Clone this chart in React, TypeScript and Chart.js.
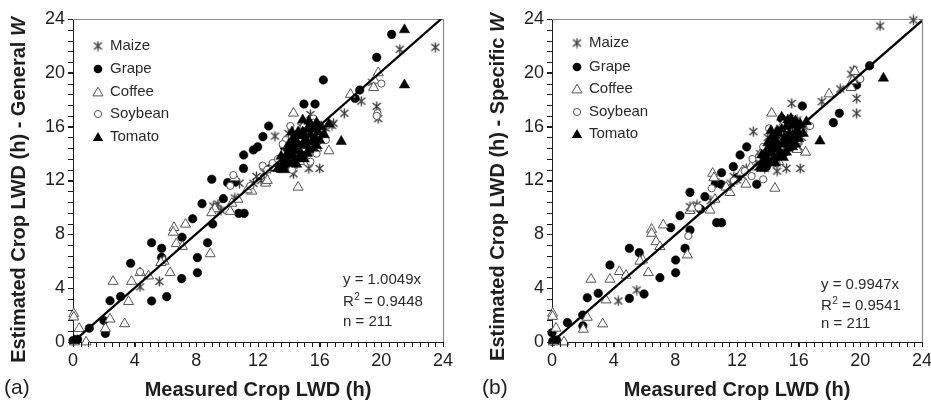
import React, { useEffect, useRef } from 'react';
import { Chart, registerables } from 'chart.js';
Chart.register(...registerables);

const FONT = '"Liberation Sans", Arial, Helvetica, sans-serif';
const INK = '#1e1e1e';
const SERIES_NAMES = ['Maize', 'Grape', 'Coffee', 'Soybean', 'Tomato'];
const AXIS_MIN = 0;
const AXIS_MAX = 24;
const MAJOR_STEP = 4;
const X_MINOR_STEP = 0.5;
const Y_MINOR_STEP = 0.8;

// ---------- Panel (a): General W ----------
const maizeA = [[23.5,21.9],[21.2,21.75],[19.4,19.3],[18.7,17.9],[17.6,17.0],[19.7,17.5],[19.8,16.6],[16.9,16.25],[16.0,12.9],[15.3,12.9],[13.1,15.3],[14.3,13.15],[11.9,12.3],[11.7,11.8],[10.8,11.8],[9.4,10.25],[9.1,10.1],[5.6,4.5],[4.35,4.1],[13.97,15.5],[14.3,12.5],[16.8,16.1],[14.6,14.3],[15.0,13.9],[15.5,14.2],[15.9,14.6],[14.0,13.6],[13.5,13.0],[12.4,12.6],[12.8,12.9],[15.7,15.8],[16.2,15.5],[14.8,16.0],[15.4,16.9],[13.8,14.1],[10.5,10.7],[12.2,12.0],[9.6,9.8],[15.2,14.8],[16.4,15.9]];
const grapeA = [[20.67,22.86],[19.7,21.15],[16.24,19.47],[18.6,18.72],[18.3,18.1],[14.98,17.68],[15.7,17.68],[12.69,16.05],[12.32,15.26],[11.98,14.5],[11.7,14.27],[11.07,13.9],[13.7,14.5],[9.0,12.09],[11.06,12.9],[10.03,11.84],[9.75,10.65],[8.37,10.28],[10.75,9.56],[11.1,9.56],[7.76,9.16],[9.06,8.77],[7.07,7.78],[5.1,7.38],[8.73,7.38],[5.75,6.96],[5.75,6.29],[8.07,6.27],[3.74,5.85],[8.07,5.15],[7.05,4.71],[2.4,3.07],[3.09,3.37],[5.1,3.05],[6.08,3.37],[1.06,1.02],[2.1,0.64],[0.3,0.2],[0.0,0.1],[13.3,12.9],[12.9,13.0],[13.9,13.9],[14.1,13.1],[15.0,15.4],[14.6,14.0],[13.6,13.4],[14.4,14.8],[10.5,11.9],[2.0,1.6],[15.5,15.0]];
const coffeeA = [[19.8,20.0],[19.55,19.45],[19.5,18.9],[18.0,18.4],[14.3,17.0],[16.6,14.2],[14.6,11.5],[12.5,11.8],[11.6,11.2],[10.7,10.6],[10.2,9.7],[9.2,9.9],[6.55,8.5],[6.5,8.15],[7.3,8.75],[6.7,7.3],[7.1,7.1],[8.9,6.55],[5.9,6.0],[6.3,5.15],[2.6,4.5],[3.8,4.5],[4.35,5.15],[4.9,4.9],[3.6,3.0],[2.4,1.7],[3.35,1.35],[2.1,1.0],[0.4,1.0],[0.05,2.1],[0.05,1.85],[0.85,0.0],[0.1,0.0],[10.3,10.3],[10.5,12.2],[12.6,12.0],[12.9,13.0],[11.3,11.3],[13.6,13.9],[15.3,15.0],[14.7,13.4],[15.8,14.4],[9.0,9.6],[5.7,5.9],[15.0,16.1]];
const soybeanA = [[20.0,19.2],[19.75,17.0],[14.1,16.05],[15.6,16.6],[13.8,15.0],[12.95,13.3],[12.3,13.1],[10.4,12.4],[4.35,5.2],[19.7,16.8],[15.6,16.3],[14.6,15.5],[15.0,14.4],[15.4,13.4],[14.3,13.9],[13.3,13.6],[16.0,15.3],[15.8,14.0],[13.6,14.7],[12.6,12.8],[11.5,11.6],[10.2,11.6],[14.2,12.8],[16.4,15.0],[15.1,15.7]];
const tomatoA = [[21.5,23.2],[21.5,19.1],[17.4,14.9],[14.9,16.5],[16.6,16.2],[0.1,0.1],[13.3,12.9],[13.6,13.2],[13.8,13.6],[13.9,14.0],[14.0,13.3],[14.2,13.8],[14.3,14.4],[14.4,15.0],[14.5,14.2],[14.6,14.7],[14.7,15.3],[14.8,14.0],[14.9,15.6],[15.0,14.6],[15.1,15.1],[15.2,15.8],[15.3,14.3],[15.4,15.4],[15.5,14.9],[15.6,15.9],[15.7,15.2],[15.8,14.6],[15.9,15.6],[16.0,15.0],[16.1,16.0],[15.0,13.6],[14.5,13.2],[13.7,12.8],[15.4,16.2],[14.2,15.6],[15.8,16.3],[13.5,13.8],[14.0,14.7],[16.3,15.4],[14.1,14.3],[14.6,15.6],[15.2,14.0],[15.6,14.4],[14.8,13.7],[15.3,16.4],[14.4,13.6],[15.9,16.1],[13.9,13.3],[15.1,14.9],[14.3,15.2]];
const slopeA = 1.0049;
const statsA = ['y = 1.0049x', '0.9448', 'n = 211'];

// ---------- Panel (b): Specific W ----------
const maizeB = [[23.44,23.93],[21.28,23.48],[19.55,20.2],[19.4,19.9],[19.76,18.1],[19.76,17.0],[18.7,18.8],[17.5,17.86],[15.55,17.73],[13.06,15.63],[15.2,12.9],[16.1,12.9],[12.0,12.04],[4.3,3.05],[5.5,3.86],[8.95,10.06],[9.4,10.2],[11.8,12.3],[11.6,11.8],[10.6,11.9],[13.5,14.0],[14.2,14.8],[14.4,13.3],[14.6,12.7],[15.0,14.1],[15.4,14.5],[15.8,14.8],[16.2,15.2],[15.9,16.5],[14.9,15.6],[13.3,13.3],[12.6,12.9],[15.6,16.0],[16.4,16.0],[14.0,15.2],[13.8,12.9],[10.3,10.5],[12.3,12.4],[15.2,15.3],[16.0,14.5]];
const grapeB = [[20.6,20.53],[19.76,19.1],[18.64,17.0],[18.25,16.3],[16.24,17.54],[14.9,16.6],[12.63,14.5],[12.2,13.9],[11.76,13.03],[11.0,12.58],[13.28,11.72],[10.96,11.72],[8.95,11.12],[9.92,10.8],[9.64,9.86],[8.3,9.39],[10.68,8.87],[11.0,8.87],[7.7,8.5],[8.95,8.32],[5.02,6.96],[5.66,6.64],[3.76,5.72],[8.63,6.96],[8.02,6.09],[8.02,5.15],[7.0,4.78],[2.29,3.29],[3.0,3.62],[5.02,3.24],[5.97,3.57],[1.99,2.0],[1.0,1.44],[0.0,0.69],[0.3,0.15],[0.05,0.05],[13.7,13.6],[13.9,13.0],[14.3,13.8],[15.0,14.0],[14.6,14.6],[15.4,15.0],[13.5,13.8],[14.1,14.3],[15.8,15.5],[10.6,11.8],[2.0,1.2],[12.0,12.2],[14.8,15.4],[16.0,16.0]];
const coffeeB = [[19.65,20.1],[19.4,18.9],[19.5,19.4],[17.97,18.43],[14.25,17.0],[16.45,14.1],[14.46,11.42],[12.58,11.72],[11.55,11.1],[10.42,12.53],[10.5,12.2],[10.57,10.6],[10.25,9.8],[8.95,9.76],[9.1,9.95],[6.46,8.37],[6.46,8.07],[7.22,8.69],[6.75,7.45],[7.0,7.08],[8.78,6.46],[5.88,6.09],[6.25,5.15],[2.53,4.66],[3.76,4.66],[4.37,5.23],[4.8,4.95],[3.5,3.12],[2.29,1.83],[3.29,1.34],[2.03,0.94],[0.26,1.02],[0.04,2.13],[0.04,1.9],[0.78,0.0],[0.1,0.0],[12.9,13.0],[12.3,12.6],[13.6,14.1],[15.3,15.1],[14.7,13.4],[15.9,14.3],[11.3,11.5],[15.0,16.2],[5.7,6.0]];
const soybeanB = [[20.0,19.54],[16.74,16.05],[14.08,15.88],[13.7,14.5],[15.55,16.6],[13.28,13.0],[12.95,12.33],[13.7,12.09],[10.36,11.42],[8.84,7.88],[14.57,13.28],[15.4,16.2],[14.8,15.5],[15.2,14.2],[14.2,13.9],[16.0,15.0],[15.7,14.6],[13.4,13.7],[12.5,12.7],[16.3,15.6],[14.4,14.7],[11.8,12.0],[15.0,15.0],[13.0,13.6],[9.5,10.0]];
const tomatoB = [[21.5,19.6],[17.38,14.93],[14.9,16.7],[16.5,16.37],[0.1,0.1],[13.5,13.0],[13.7,13.4],[13.8,13.8],[13.9,14.2],[14.0,13.5],[14.2,14.0],[14.3,14.6],[14.4,15.1],[14.5,14.3],[14.6,14.8],[14.7,15.5],[14.8,14.1],[14.9,15.8],[15.0,14.7],[15.1,15.2],[15.2,16.0],[15.3,14.4],[15.4,15.5],[15.5,15.0],[15.6,16.1],[15.7,15.3],[15.8,14.7],[15.9,15.7],[16.0,15.1],[16.1,16.2],[15.0,13.7],[14.5,13.3],[13.6,12.9],[15.4,16.4],[14.2,15.7],[15.8,16.4],[13.6,13.9],[14.0,14.8],[16.3,15.5],[14.1,14.4],[14.6,15.7],[15.2,14.1],[15.6,14.5],[14.8,13.8],[15.3,16.5],[14.4,13.7],[15.9,16.2],[13.9,13.4],[15.1,15.0],[14.3,15.3],[15.5,16.6]];
const slopeB = 0.9947;
const statsB = ['y = 0.9947x', '0.9541', 'n = 211'];

const X_TITLE = 'Measured Crop LWD (h)';
const Y_TITLE_A = 'Estimated Crop LWD (h) - General ';
const Y_TITLE_B = 'Estimated Crop LWD (h) - Specific ';
const Y_TITLE_ITALIC = 'W';

type Pair = number[];
interface Panel {
  id: string;
  width: number;
  series: Pair[][];
  slope: number;
  stats: string[];
  yTitle: string;
  label: string;
  padRight: number;
  yAxisWidth: number;
  yTitleX: number;
  yTitleY: number;
  legendX: number;
  legendY: number[];
  statsX: number;
  statsY: number[];
  labelX: number;
}

const panels: Panel[] = [
  {
    id: 'a', width: 465, series: [maizeA, grapeA, coffeeA, soybeanA, tomatoA], slope: slopeA, stats: statsA,
    yTitle: Y_TITLE_A, label: '(a)', padRight: 22, yAxisWidth: 73, yTitleX: 19, yTitleY: 190,
    legendX: 98, legendY: [46, 69, 92, 114, 137], statsX: 343, statsY: [280, 302, 322], labelX: 4,
  },
  {
    id: 'b', width: 466, series: [maizeB, grapeB, coffeeB, soybeanB, tomatoB], slope: slopeB, stats: statsB,
    yTitle: Y_TITLE_B, label: '(b)', padRight: 9, yAxisWidth: 87, yTitleX: 33, yTitleY: 187,
    legendX: 112, legendY: [43, 67, 89, 112, 134], statsX: 356, statsY: [285, 306, 324], labelX: 17,
  },
];

const MAIZE_COLOR = '#3a3a3a';

function makeAsterisk(): HTMLCanvasElement {
  const c = document.createElement('canvas');
  c.width = 11; c.height = 11;
  const g = c.getContext('2d')!;
  g.strokeStyle = MAIZE_COLOR;
  g.lineWidth = 1.35;
  g.beginPath();
  g.moveTo(1.5, 2); g.lineTo(9.5, 9);
  g.moveTo(9.5, 2); g.lineTo(1.5, 9);
  g.moveTo(5.5, 0.5); g.lineTo(5.5, 10.5);
  g.stroke();
  return c;
}

function triPath(ctx: CanvasRenderingContext2D, x: number, y: number, r: number) {
  let rad = 0;
  const step = (2 * Math.PI) / 3;
  ctx.beginPath();
  ctx.moveTo(x + Math.sin(rad) * r, y - Math.cos(rad) * r);
  rad += step;
  ctx.lineTo(x + Math.sin(rad) * r, y - Math.cos(rad) * r);
  rad += step;
  ctx.lineTo(x + Math.sin(rad) * r, y - Math.cos(rad) * r);
  ctx.closePath();
}

const toPts = (arr: Pair[]) => arr.map(([x, y]) => ({ x, y }));

function buildConfig(p: Panel, asterisk: HTMLCanvasElement): any {
  const H = 401;
  const top = 19;
  const bottom = 342;
  const fitEnd = p.slope > 1 ? AXIS_MAX / p.slope : AXIS_MAX;

  const styles = [
    { pointStyle: asterisk, pointRadius: 5, pointBackgroundColor: MAIZE_COLOR, pointBorderColor: MAIZE_COLOR, pointBorderWidth: 0, order: 5 },
    { pointStyle: 'circle', pointRadius: 4.3, pointBackgroundColor: '#000', pointBorderColor: '#000', pointBorderWidth: 0.5, order: 4 },
    { pointStyle: 'triangle', pointRadius: 5.8, pointBackgroundColor: '#fff', pointBorderColor: '#555', pointBorderWidth: 1, order: 3 },
    { pointStyle: 'circle', pointRadius: 3.6, pointBackgroundColor: '#fff', pointBorderColor: '#555', pointBorderWidth: 1, order: 2 },
    { pointStyle: 'triangle', pointRadius: 6, pointBackgroundColor: '#000', pointBorderColor: '#000', pointBorderWidth: 0.5, order: 1 },
  ];

  const datasets: any[] = p.series.map((s, i) => ({
    label: SERIES_NAMES[i],
    data: toPts(s),
    showLine: false,
    clip: false,
    ...styles[i],
  }));
  datasets.push({
    label: 'fit',
    data: [{ x: 0, y: 0 }, { x: fitEnd, y: fitEnd * p.slope }],
    showLine: true,
    borderColor: '#000',
    borderWidth: 2.3,
    pointRadius: 0,
    order: 0,
  });

  const deco = {
    id: 'deco' + p.id,
    beforeDatasetsDraw(chart: any) {
      const { ctx, chartArea: ca } = chart;
      ctx.save();
      ctx.strokeStyle = '#8c8c8c';
      ctx.lineWidth = 1.2;
      ctx.beginPath();
      ctx.moveTo(Math.round(ca.left), Math.round(ca.top) + 0.5);
      ctx.lineTo(Math.round(ca.right) + 0.5, Math.round(ca.top) + 0.5);
      ctx.lineTo(Math.round(ca.right) + 0.5, Math.round(ca.bottom));
      ctx.stroke();
      ctx.restore();
    },
    afterDraw(chart: any) {
      const { ctx, chartArea: ca, scales } = chart;
      const xs = scales.x, ys = scales.y;
      ctx.save();
      ctx.strokeStyle = INK;
      ctx.lineWidth = 1;
      ctx.beginPath();
      const nx = Math.round((AXIS_MAX - AXIS_MIN) / X_MINOR_STEP);
      for (let k = 0; k <= nx; k++) {
        const px = Math.round(xs.getPixelForValue(AXIS_MIN + k * X_MINOR_STEP)) + 0.5;
        ctx.moveTo(px, ca.bottom);
        ctx.lineTo(px, ca.bottom + 5);
      }
      const ny = Math.round((AXIS_MAX - AXIS_MIN) / Y_MINOR_STEP);
      for (let k = 0; k <= ny; k++) {
        const py = Math.round(ys.getPixelForValue(AXIS_MIN + k * Y_MINOR_STEP)) + 0.5;
        ctx.moveTo(ca.left, py);
        ctx.lineTo(ca.left - 5, py);
      }
      ctx.stroke();

      ctx.fillStyle = INK;
      ctx.font = `bold 20px ${FONT}`;
      ctx.textAlign = 'center';
      ctx.textBaseline = 'middle';
      ctx.fillText(X_TITLE, (ca.left + ca.right) / 2, 390);
      ctx.font = `21px ${FONT}`;
      ctx.textAlign = 'left';
      ctx.fillText(p.label, p.labelX, 388);

      ctx.save();
      ctx.translate(p.yTitleX, p.yTitleY);
      ctx.rotate(-Math.PI / 2);
      const fb = `bold 20px ${FONT}`;
      const fi = `italic bold 20px ${FONT}`;
      ctx.font = fb;
      const w1 = ctx.measureText(p.yTitle).width;
      ctx.font = fi;
      const w2 = ctx.measureText(Y_TITLE_ITALIC).width;
      const x0 = -(w1 + w2) / 2;
      ctx.textAlign = 'left';
      ctx.font = fb;
      ctx.fillText(p.yTitle, x0, 0);
      ctx.font = fi;
      ctx.fillText(Y_TITLE_ITALIC, x0 + w1, 0);
      ctx.restore();

      ctx.font = `15px ${FONT}`;
      ctx.textAlign = 'left';
      ctx.textBaseline = 'middle';
      SERIES_NAMES.forEach((name, i) => {
        const mx = p.legendX, my = p.legendY[i];
        if (i === 0) {
          ctx.drawImage(asterisk, mx - 5.5, my - 5.5);
        } else if (i === 1) {
          ctx.beginPath(); ctx.arc(mx, my, 4.3, 0, Math.PI * 2); ctx.fillStyle = '#000'; ctx.fill();
        } else if (i === 2) {
          triPath(ctx, mx, my + 1, 5.8); ctx.fillStyle = '#fff'; ctx.fill(); ctx.strokeStyle = '#555'; ctx.lineWidth = 1; ctx.stroke();
        } else if (i === 3) {
          ctx.beginPath(); ctx.arc(mx, my, 3.6, 0, Math.PI * 2); ctx.fillStyle = '#fff'; ctx.fill(); ctx.strokeStyle = '#555'; ctx.lineWidth = 1; ctx.stroke();
        } else {
          triPath(ctx, mx, my + 1, 6); ctx.fillStyle = '#000'; ctx.fill();
        }
        ctx.fillStyle = '#2a2a2a';
        ctx.fillText(name, mx + 12, my);
      });

      ctx.font = `15px ${FONT}`;
      ctx.fillStyle = '#2a2a2a';
      ctx.fillText(p.stats[0], p.statsX, p.statsY[0]);
      let sx = p.statsX;
      ctx.fillText('R', sx, p.statsY[1]);
      sx += ctx.measureText('R').width;
      ctx.font = `10px ${FONT}`;
      ctx.fillText('2', sx + 0.5, p.statsY[1] - 5);
      sx += ctx.measureText('2').width + 0.5;
      ctx.font = `15px ${FONT}`;
      ctx.fillText(' = ' + p.stats[1], sx, p.statsY[1]);
      ctx.fillText(p.stats[2], p.statsX, p.statsY[2]);
      ctx.restore();
    },
  };

  return {
    type: 'scatter',
    data: { datasets },
    plugins: [deco],
    options: {
      responsive: false,
      animation: false,
      events: [],
      devicePixelRatio: 1,
      layout: { padding: { top, right: p.padRight, left: 0, bottom: 0 } },
      plugins: { legend: { display: false }, tooltip: { enabled: false }, title: { display: false } },
      scales: {
        x: {
          type: 'linear', min: AXIS_MIN, max: AXIS_MAX,
          ticks: { stepSize: MAJOR_STEP, font: { family: FONT, size: 18 }, color: INK, padding: 3, maxRotation: 0 },
          grid: { display: true, drawOnChartArea: false, drawTicks: true, tickLength: 5, color: INK },
          border: { display: true, color: INK, width: 1 },
          afterFit: (s: any) => { s.height = H - bottom; s.paddingLeft = 0; s.paddingRight = 0; },
        },
        y: {
          type: 'linear', min: AXIS_MIN, max: AXIS_MAX,
          ticks: { stepSize: MAJOR_STEP, font: { family: FONT, size: 18 }, color: INK, padding: 3 },
          grid: { display: true, drawOnChartArea: false, drawTicks: true, tickLength: 5, color: INK },
          border: { display: true, color: INK, width: 1 },
          afterFit: (s: any) => { s.width = p.yAxisWidth; s.paddingTop = 0; s.paddingBottom = 0; },
        },
      },
    },
  };
}

export default function App() {
  const refA = useRef<HTMLCanvasElement>(null);
  const refB = useRef<HTMLCanvasElement>(null);
  useEffect(() => {
    document.body.style.margin = '0';
    const asterisk = makeAsterisk();
    const charts = [refA, refB].map((r, i) => new Chart(r.current!, buildConfig(panels[i], asterisk)));
    return () => charts.forEach((c) => c.destroy());
  }, []);
  return (
    <div style={{ display: 'flex', width: 931, height: 401, background: '#fff' }}>
      <canvas ref={refA} width={465} height={401} style={{ display: 'block', width: 465, height: 401 }} />
      <canvas ref={refB} width={466} height={401} style={{ display: 'block', width: 466, height: 401 }} />
    </div>
  );
}
